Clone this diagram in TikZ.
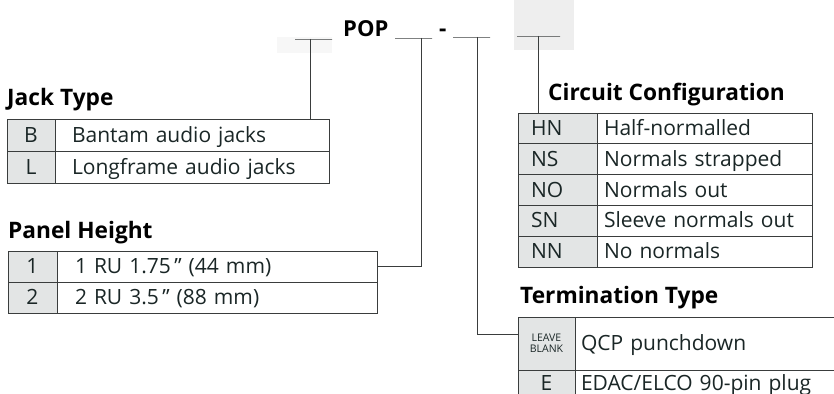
\documentclass[tikz,border=0pt]{standalone}
\usepackage{fontspec}
\setmainfont{Open Sans}
\usetikzlibrary{positioning,calc}

\definecolor{rule}{HTML}{3A3D3D}
\definecolor{codefill}{HTML}{E3E5E5}
\definecolor{ink}{HTML}{1A2626}
\definecolor{scan}{HTML}{EEEEEE}

\begin{document}
\begin{tikzpicture}[
    x=1pt, y=-1pt,
    font=\fontsize{21}{24}\selectfont,
    cell/.style={
        draw=rule,
        line width=0.9pt,
        inner sep=0pt,
        outer sep=0pt,
        text height=15pt,
        text depth=1pt,
        text=ink
    },
    code/.style={cell, fill=codefill, align=center},
    desc/.style={cell, fill=white, align=left},
    jcode/.style={code, minimum width=48pt, minimum height=32pt},
    jdesc/.style={desc, text width=240pt, inner xsep=17pt, minimum height=32pt},
    pcode/.style={code, minimum width=49pt, minimum height=31pt},
    pdesc/.style={desc, text width=284pt, inner xsep=18pt, minimum height=31pt},
    ccode/.style={code, align=left, text width=53pt, inner xsep=13pt, minimum height=30.8pt},
    cdesc/.style={desc, text width=201pt, inner xsep=7pt, minimum height=30.8pt},
    tcode/.style={code, minimum width=57pt, minimum height=27pt},
    tdesc/.style={desc, text width=258pt, inner xsep=6pt, minimum height=27pt},
    heading/.style={
        font=\fontsize{22.7}{26}\selectfont\bfseries,
        anchor=base west,
        inner sep=0pt
    },
    tbar/.style={
        draw=rule,
        line width=0.9pt,
        minimum width=37pt,
        minimum height=0pt,
        inner sep=0pt,
        outer sep=0pt
    },
    conn/.style={draw=rule, line width=0.9pt}
]
\useasboundingbox (0,0) rectangle (834,393);
\clip (0,0) rectangle (834,393);
\fill[scan] (514,0) rectangle (574,50);
\fill[scan!50] (277,37) rectangle (332,53);

\node[heading, font=\fontsize{22}{26}\selectfont\bfseries] (pop) at (343,37) {POP};
\node[heading] (hyph) at (439,37) {-};
\node[tbar] (t1) at (313.5,39) {};
\node[tbar] (t2) at (413.5,38) {};
\node[tbar] (t3) at (471.5,37) {};
\node[tbar, minimum width=43pt] (t4) at (538.5,36) {};

\node[heading] (jack) at (7,106) {Jack Type};
\node[jcode] (jB) at (31,135) {B};
\node[jdesc, right=0pt of jB] (jBd) {Bantam audio jacks};
\node[jcode, below=0pt of jB] (jL) {L};
\node[jdesc, right=0pt of jL] (jLd) {Longframe audio jacks};

\node[heading] (panel) at (8,238) {Panel Height};
\node[pcode] (p1) at (32.5,266.5) {1};
\node[pdesc, right=0pt of p1] (p1d) {1 RU 1.75\,\symbol{34} (44 mm)};
\node[pcode, below=0pt of p1] (p2) {2};
\node[pdesc, right=0pt of p2] (p2d) {2 RU 3.5\,\symbol{34} (88 mm)};

\node[heading] (circuit) at (548,100) {Circuit Configuration};
\node[ccode] (cHN) at (557.5,128.4) {HN};
\node[cdesc, right=0pt of cHN] (cHNd) {Half-normalled};
\node[ccode, below=0pt of cHN] (cNS) {NS};
\node[cdesc, right=0pt of cNS] (cNSd) {Normals strapped};
\node[ccode, below=0pt of cNS] (cNO) {NO};
\node[cdesc, right=0pt of cNO] (cNOd) {Normals out};
\node[ccode, below=0pt of cNO] (cSN) {SN};
\node[cdesc, right=0pt of cSN] (cSNd) {Sleeve normals out};
\node[ccode, below=0pt of cSN] (cNN) {NN};
\node[cdesc, right=0pt of cNN] (cNNd) {No normals};

\node[heading] (term) at (520,303) {Termination Type};
\node[tcode, minimum height=53pt, text height=, text depth=,
    font=\fontsize{10.5}{11}\selectfont] (tLB) at (546.5,343.5) {LEAVE\\BLANK};
\node[tdesc, right=0pt of tLB, minimum height=53pt] (tLBd) {QCP punchdown};
\node[tcode, below=0pt of tLB] (tE) {E};
\node[tdesc, right=0pt of tE] (tEd) {EDAC/ELCO 90-pin plug};

\coordinate (d1) at ([xshift=-3.5pt]t1.center);
\coordinate (d2) at ([xshift=7.5pt]t2.center);
\coordinate (d3) at ([xshift=5.5pt]t3.center);
\coordinate (d4) at (t4.center);

\draw[conn] (d1) -- (d1 |- jBd.north);
\draw[conn] (d2) |- (p1d.east);
\draw[conn] (d3) |- ($(tLB.north west)!0.32!(tLB.south west)$);
\draw[conn] (d4) -- (d4 |- cHN.north);
\end{tikzpicture}
\end{document}
